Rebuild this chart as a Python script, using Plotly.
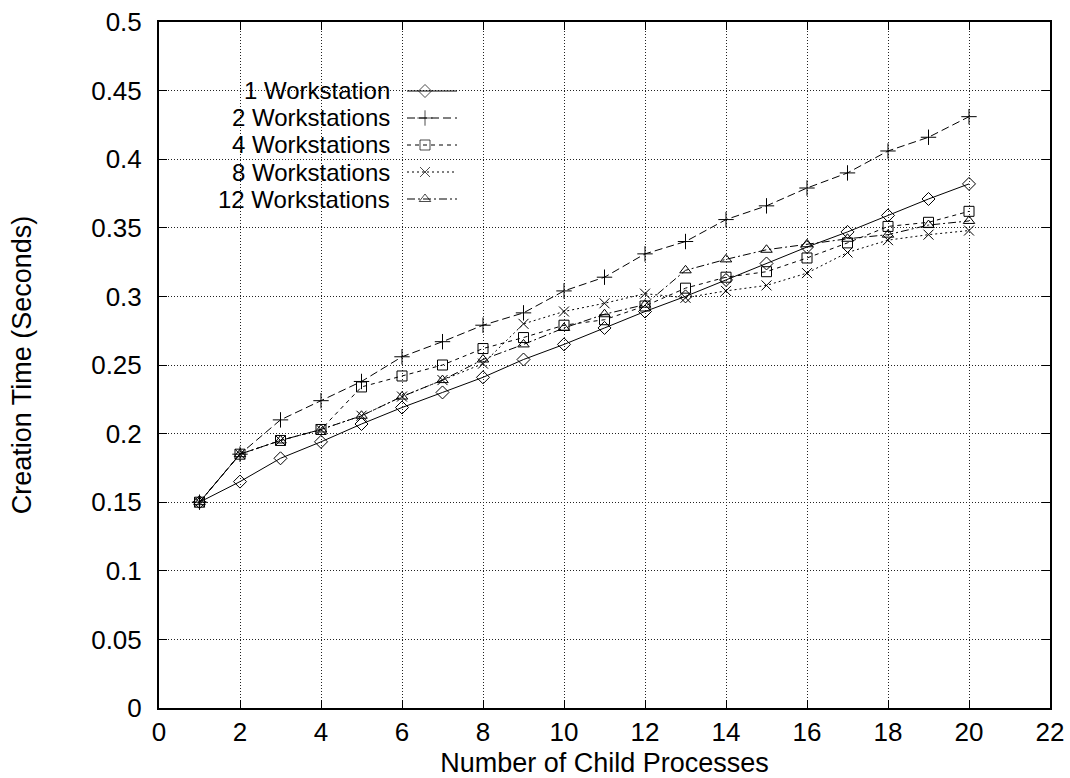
import plotly.graph_objects as go

processes = list(range(1, 21))
ws1 = [0.150, 0.165, 0.182, 0.194, 0.207, 0.219, 0.230, 0.241, 0.254, 0.265,
       0.277, 0.289, 0.300, 0.312, 0.324, 0.336, 0.347, 0.359, 0.371, 0.382]
ws2 = [0.150, 0.185, 0.210, 0.224, 0.238, 0.256, 0.267, 0.279, 0.288, 0.304,
       0.314, 0.331, 0.340, 0.356, 0.366, 0.379, 0.390, 0.406, 0.416, 0.431]
ws4 = [0.150, 0.185, 0.195, 0.203, 0.234, 0.242, 0.250, 0.262, 0.270, 0.279,
       0.283, 0.293, 0.306, 0.314, 0.318, 0.328, 0.339, 0.351, 0.354, 0.362]
ws8 = [0.150, 0.185, 0.195, 0.203, 0.213, 0.227, 0.239, 0.251, 0.280, 0.289,
       0.295, 0.302, 0.299, 0.304, 0.308, 0.317, 0.332, 0.341, 0.345, 0.348]
ws12 = [0.150, 0.185, 0.195, 0.203, 0.213, 0.227, 0.239, 0.254, 0.265, 0.277,
        0.287, 0.294, 0.319, 0.327, 0.334, 0.338, 0.342, 0.345, 0.352, 0.355]

labels = ["1 Workstation", "2 Workstations", "4 Workstations", "8 Workstations", "12 Workstations"]
series = [ws1, ws2, ws4, ws8, ws12]
symbols = ["diamond-open", "cross-thin-open", "square-open", "x-thin-open", "triangle-up-open"]
sizes = [10, 11, 10, 10, 10]
dashes = ["solid", "8px,4px", "4px,4px", "2px,3px", "8px,3px,2px,3px"]

x_ticks = list(range(0, 23, 2))
y_ticks = [round(0.05 * i, 2) for i in range(11)]

FONT = "Liberation Sans, Arial, Helvetica, sans-serif"
TICK_SIZE = 26
TEXT_SIZE = 27
LEGEND_SIZE = 24

fig = go.Figure()
for lab, ys, sym, sz, dsh in zip(labels, series, symbols, sizes, dashes):
    fig.add_trace(go.Scatter(
        x=processes, y=ys, mode="lines+markers", name=lab,
        line=dict(color="black", width=1, dash=dsh),
        marker=dict(symbol=sym, size=sz, color="black", line=dict(color="black", width=1)),
        showlegend=False,
    ))

# Legend emulation (gnuplot style: text right-aligned, sample to the right)
L, R, T, B = 159, 1050, 22, 708
W, H = R - L, B - T
row_px = [91, 118, 145, 172, 199]
for lab, sym, sz, dsh, py in zip(labels, symbols, sizes, dashes, row_px):
    yp = (B - py) / H
    x0 = (407 - L) / W
    xm = (425 - L) / W
    x1 = (457 - L) / W
    fig.add_trace(go.Scatter(
        x=[x0, xm, x1], y=[yp, yp, yp], xaxis="x2", yaxis="y2",
        mode="lines+markers", showlegend=False, hoverinfo="skip",
        line=dict(color="black", width=1, dash=dsh),
        marker=dict(symbol=sym, size=[0, sz, 0], color="black", line=dict(color="black", width=1)),
    ))
    fig.add_annotation(x=(391 - L) / W, y=yp, xref="paper", yref="paper",
                       text=lab, showarrow=False, xanchor="right", yanchor="middle",
                       borderpad=0,
                       font=dict(family=FONT, size=LEGEND_SIZE, color="black"))

axis_common = dict(
    showline=True, linecolor="black", linewidth=2, mirror="ticks",
    ticks="inside", ticklen=8, tickcolor="black", tickwidth=1,
    showgrid=True, gridcolor="#222222", griddash="1px,2px", gridwidth=1,
    zeroline=False, automargin=False,
    tickfont=dict(family=FONT, size=TICK_SIZE, color="black"),
)

fig.update_layout(
    width=1070, height=778,
    margin=dict(l=L, r=1070 - R, t=T, b=778 - B),
    paper_bgcolor="white", plot_bgcolor="white",
    font=dict(family=FONT, size=TEXT_SIZE, color="black"),
    xaxis=dict(range=[0, 22], tickvals=x_ticks, ticktext=[str(v) for v in x_ticks],
               ticklabelstandoff=0,
               title=dict(text="Number of Child Processes", font=dict(family=FONT, size=TEXT_SIZE)),
               **axis_common),
    yaxis=dict(range=[0, 0.5], tickvals=y_ticks, ticktext=[f"{v:g}" for v in y_ticks],
               ticklabelstandoff=10,
               title=dict(text="Creation Time (Seconds)", font=dict(family=FONT, size=TEXT_SIZE), standoff=52),
               **axis_common),
    xaxis2=dict(range=[0, 1], overlaying="x", anchor="y2", visible=False),
    yaxis2=dict(range=[0, 1], overlaying="y", anchor="x2", visible=False),
    showlegend=False,
)

fig.write_html("out.html")
